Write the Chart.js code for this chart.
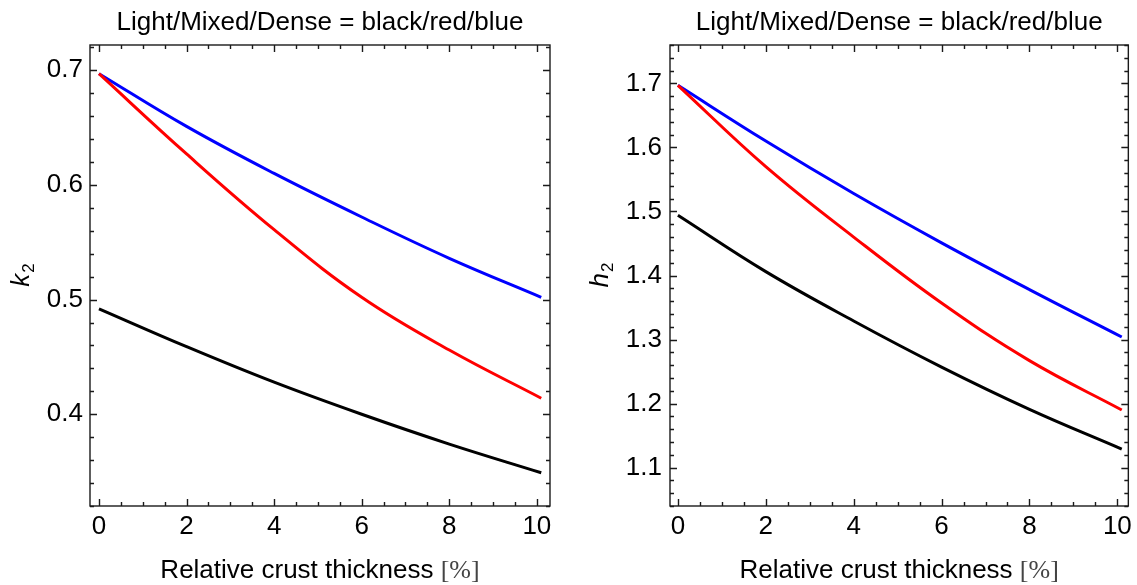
<!DOCTYPE html>
<html>
<head>
<meta charset="utf-8">
<script src="https://cdn.jsdelivr.net/npm/chart.js@4.4.1/dist/chart.umd.min.js"></script>
<style>
  html, body { margin: 0; padding: 0; background: #fff; }
  .wrap { display: flex; width: 1137px; height: 585px; }
</style>
</head>
<body>
<div class="wrap">
  <canvas id="left" width="568" height="585"></canvas>
  <canvas id="right" width="569" height="585"></canvas>
</div>
<script>
// shared x positions (relative crust thickness, %)
const xVals = [0, 2, 4, 6, 8, 10.1];
const xTicks = [0, 2, 4, 6, 8, 10];

// k2 (left panel)
const kLight = [0.492, 0.459, 0.428, 0.400, 0.374, 0.349];
const kMixed = [0.697, 0.627, 0.561, 0.502, 0.456, 0.414];
const kDense = [0.697, 0.651, 0.610, 0.572, 0.536, 0.502];
const kTicks = [0.4, 0.5, 0.6, 0.7];

// h2 (right panel)
const hLight = [1.494, 1.406, 1.329, 1.257, 1.191, 1.129];
const hMixed = [1.697, 1.570, 1.460, 1.357, 1.267, 1.190];
const hDense = [1.697, 1.610, 1.528, 1.451, 1.378, 1.304];
const hTicks = [1.1, 1.2, 1.3, 1.4, 1.5, 1.6, 1.7];

const titleText = 'Light/Mixed/Dense = black/red/blue';
const xTitle = 'Relative crust thickness ';
const xUnit = '[%]';

const sans = '"Liberation Sans", Arial, sans-serif';
const fs = 26;
Chart.defaults.font.family = sans;
Chart.defaults.font.size = fs;
Chart.defaults.color = '#000';

function series(ys) {
    return ys.map((y, i) => ({ x: xVals[i], y: y }));
}

// frame + inward ticks on all four sides, plus title and axis labels
const framePlugin = {
    id: 'frame',
    afterDraw(chart) {
        const o = chart.options.plugins.frame;
        const ctx = chart.ctx;
        const a = chart.chartArea;
        const xs = chart.scales.x, ys = chart.scales.y;
        ctx.save();
        ctx.strokeStyle = '#1a1a1a';
        ctx.lineWidth = 1.4;
        ctx.strokeRect(a.left, a.top, a.right - a.left, a.bottom - a.top);

        ctx.beginPath();
        for (let v = 0; v <= 10.001; v += 0.5) {
            const px = Math.round(xs.getPixelForValue(v)) + 0.5;
            const len = Math.abs(v % 2) < 1e-6 ? 7 : 4;
            ctx.moveTo(px, a.bottom); ctx.lineTo(px, a.bottom - len);
            ctx.moveTo(px, a.top); ctx.lineTo(px, a.top + len);
        }
        for (let i = 0; ; i++) {
            const v = o.yMinorStart + i * 0.02;
            if (v > ys.max) break;
            const py = Math.round(ys.getPixelForValue(v)) + 0.5;
            const major = Math.abs(Math.round(v * 10) - v * 10) < 1e-6;
            const len = major ? 7 : 4;
            ctx.moveTo(a.left, py); ctx.lineTo(a.left + len, py);
            ctx.moveTo(a.right, py); ctx.lineTo(a.right - len, py);
        }
        ctx.stroke();

        const cx = (a.left + a.right) / 2;
        ctx.fillStyle = '#000';
        ctx.textBaseline = 'alphabetic';
        ctx.textAlign = 'center';
        ctx.font = fs + 'px ' + sans;
        ctx.fillText(titleText, cx, 30);

        // x axis title with a lighter serif unit
        const w1 = ctx.measureText(xTitle).width;
        ctx.font = fs + 'px "Liberation Serif", serif';
        const w2 = ctx.measureText(xUnit).width;
        const sx = cx - (w1 + w2) / 2;
        ctx.textAlign = 'left';
        ctx.font = fs + 'px ' + sans;
        ctx.fillText(xTitle, sx, 578);
        ctx.fillStyle = '#444';
        ctx.font = fs + 'px "Liberation Serif", serif';
        ctx.fillText(xUnit, sx + w1, 578);

        // y axis label: italic letter with subscript 2
        ctx.fillStyle = '#000';
        ctx.translate(o.yLabelX, (a.top + a.bottom) / 2);
        ctx.rotate(-Math.PI / 2);
        ctx.font = 'italic ' + fs + 'px ' + sans;
        const wl = ctx.measureText(o.yLetter).width;
        ctx.font = '17px ' + sans;
        const ws = ctx.measureText('2').width;
        ctx.textAlign = 'left';
        ctx.font = 'italic ' + fs + 'px ' + sans;
        ctx.fillText(o.yLetter, -(wl + ws) / 2, 8);
        ctx.font = '17px ' + sans;
        ctx.fillText('2', -(wl + ws) / 2 + wl + 1, 13);
        ctx.restore();
    }
};

function makeChart(id, p) {
    const ds = (label, data, color) => ({
        label: label,
        data: series(data),
        borderColor: color,
        borderWidth: 3,
        pointRadius: 0,
        fill: false,
        tension: 0.4
    });
    return new Chart(document.getElementById(id), {
        type: 'line',
        data: {
            datasets: [
                ds('Light', p.light, '#000000'),
                ds('Mixed', p.mixed, '#ff0000'),
                ds('Dense', p.dense, '#0000ff')
            ]
        },
        options: {
            responsive: false,
            animation: false,
            layout: { padding: { top: 45, right: p.padRight, left: 0, bottom: 0 } },
            plugins: {
                legend: { display: false },
                tooltip: { enabled: false },
                frame: { yMinorStart: p.yMinorStart, yLetter: p.yLetter, yLabelX: p.yLabelX }
            },
            scales: {
                x: {
                    type: 'linear',
                    min: p.xMin, max: p.xMax,
                    afterBuildTicks: s => { s.ticks = xTicks.map(v => ({ value: v })); },
                    afterFit: s => { s.height = 79; },
                    ticks: { padding: 5, maxRotation: 0, autoSkip: false, callback: v => String(v) },
                    grid: { display: false, drawTicks: false },
                    border: { display: false }
                },
                y: {
                    type: 'linear',
                    min: p.yMin, max: p.yMax,
                    afterBuildTicks: s => { s.ticks = p.yTicks.map(v => ({ value: v })); },
                    afterFit: s => { s.width = p.yWidth; },
                    ticks: { padding: p.yPad, autoSkip: false, callback: v => v.toFixed(1) },
                    grid: { display: false, drawTicks: false },
                    border: { display: false }
                }
            }
        },
        plugins: [framePlugin]
    });
}

makeChart('left', {
    light: kLight, mixed: kMixed, dense: kDense, yTicks: kTicks,
    xMin: -0.205, xMax: 10.3, yMin: 0.32, yMax: 0.722, yMinorStart: 0.32,
    yWidth: 90, yPad: 7, padRight: 18, yLetter: 'k', yLabelX: 21
});

makeChart('right', {
    light: hLight, mixed: hMixed, dense: hDense, yTicks: hTicks,
    xMin: -0.18, xMax: 10.25, yMin: 1.04, yMax: 1.76, yMinorStart: 1.04,
    yWidth: 102, yPad: 8, padRight: 8, yLetter: 'h', yLabelX: 32
});
</script>
</body>
</html>
